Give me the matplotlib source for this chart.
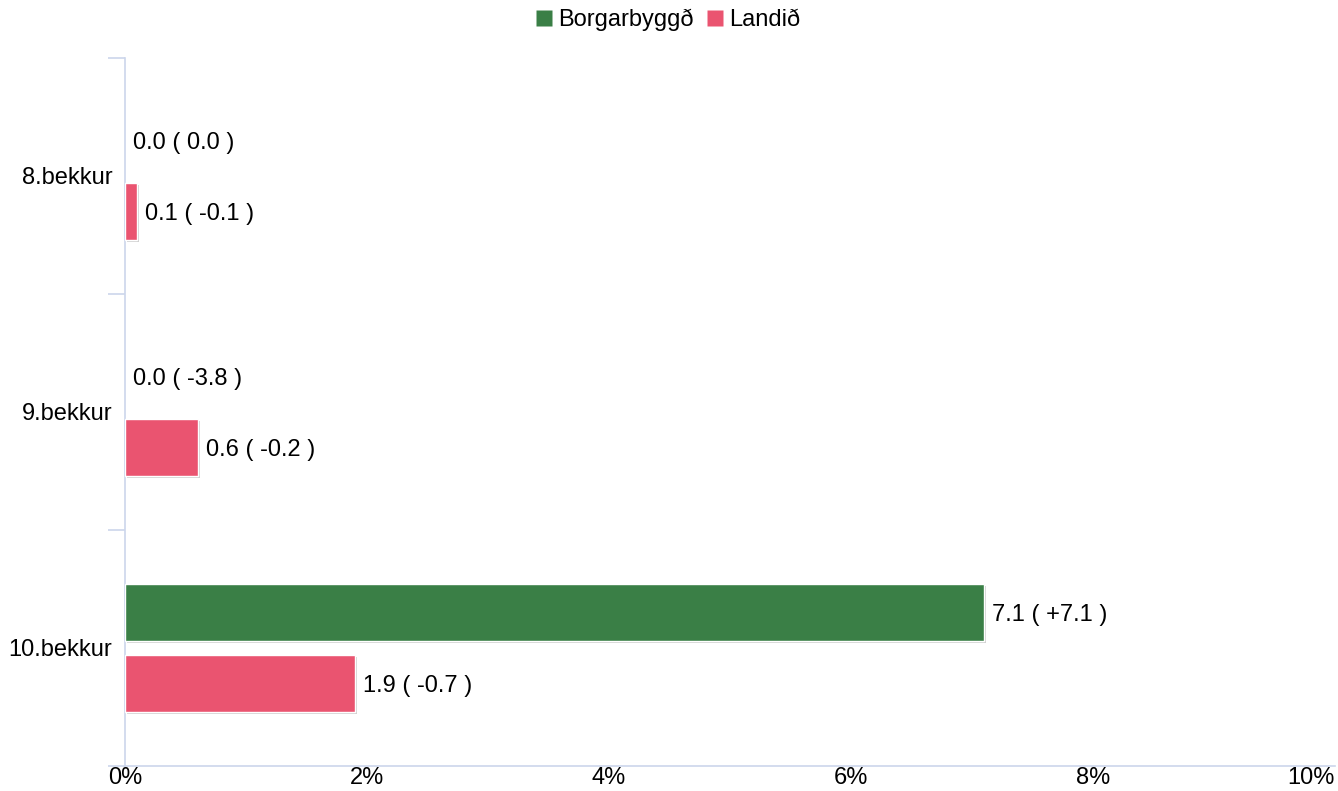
import matplotlib
matplotlib.use("Agg")
import matplotlib.pyplot as plt
import matplotlib.patheffects as pe
from matplotlib.lines import Line2D
import numpy as np

plt.rcParams['font.family'] = ['Liberation Sans', 'DejaVu Sans']

categories = ["8.bekkur", "9.bekkur", "10.bekkur"]
series_names = ["Borgarbyggð", "Landið"]
borgarbyggd = [0.0, 0.0, 7.1]
borgarbyggd_diff = ["0.0", "-3.8", "+7.1"]
landid = [0.1, 0.6, 1.9]
landid_diff = ["-0.1", "-0.2", "-0.7"]
colors = ["#3a7f46", "#ea5470"]
x_ticks = [0, 2, 4, 6, 8, 10]

fig = plt.figure(figsize=(13.38, 7.91), dpi=100)
ax = fig.add_axes([125/1338, 1-766/791, 1210/1338, 708/791])

y = np.arange(len(categories))
off = 0.15
h = 0.24
axis_col = "#ccd6eb"

shadow = [pe.SimplePatchShadow(offset=(1.5, -1.5), shadow_rgbFace='#000000', alpha=0.18), pe.Normal()]
for vals, diffs, c, sgn in [(borgarbyggd, borgarbyggd_diff, colors[0], -1),
                            (landid, landid_diff, colors[1], 1)]:
    bars = ax.barh(y + sgn*off, vals, height=h, color=c, edgecolor='white', linewidth=1, zorder=3)
    for b, v in zip(bars, vals):
        if v > 0:
            b.set_path_effects(shadow)
        else:
            b.set_visible(False)
    for yi, v, d in zip(y, vals, diffs):
        ax.annotate(f"{v:.1f} ( {d} )", xy=(v, yi + sgn*off + 0.012), xytext=(6, 0),
                    textcoords='offset points', ha='left', va='center', fontsize=17, color='black', zorder=4)

ax.set_xlim(0, 10)
ax.set_ylim(2.5, -0.5)
ax.set_xticks(x_ticks)
ax.set_xticklabels([f"{t}%" for t in x_ticks])
ax.tick_params(axis='x', length=0, pad=1, labelsize=17)
ax.get_xticklabels()[-1].set_horizontalalignment('right')

ax.set_yticks([-0.5, 0.5, 1.5, 2.5])
ax.set_yticklabels([])
ax.tick_params(axis='y', which='major', length=12, color=axis_col, width=1.2)
ax.set_yticks(y, minor=True)
ax.set_yticklabels(categories, minor=True)
ax.tick_params(axis='y', which='minor', length=0, pad=9, labelsize=17)
for lab in ax.get_yticklabels(minor=True):
    lab.set_y(lab.get_position()[1])

for s in ['top', 'right']:
    ax.spines[s].set_visible(False)
for s in ['left', 'bottom']:
    ax.spines[s].set_color(axis_col)
    ax.spines[s].set_linewidth(1.2)

handles = [Line2D([0], [0], marker='s', linestyle='none', markersize=12,
                  markerfacecolor=c, markeredgecolor='none') for c in colors]
fig.legend(handles, series_names, loc='center', bbox_to_anchor=(0.5, 1-20/791), ncol=2,
           frameon=False, fontsize=17, handlelength=0.6, handletextpad=0.3, columnspacing=0.6)

fig.savefig("out.png", dpi=100)
